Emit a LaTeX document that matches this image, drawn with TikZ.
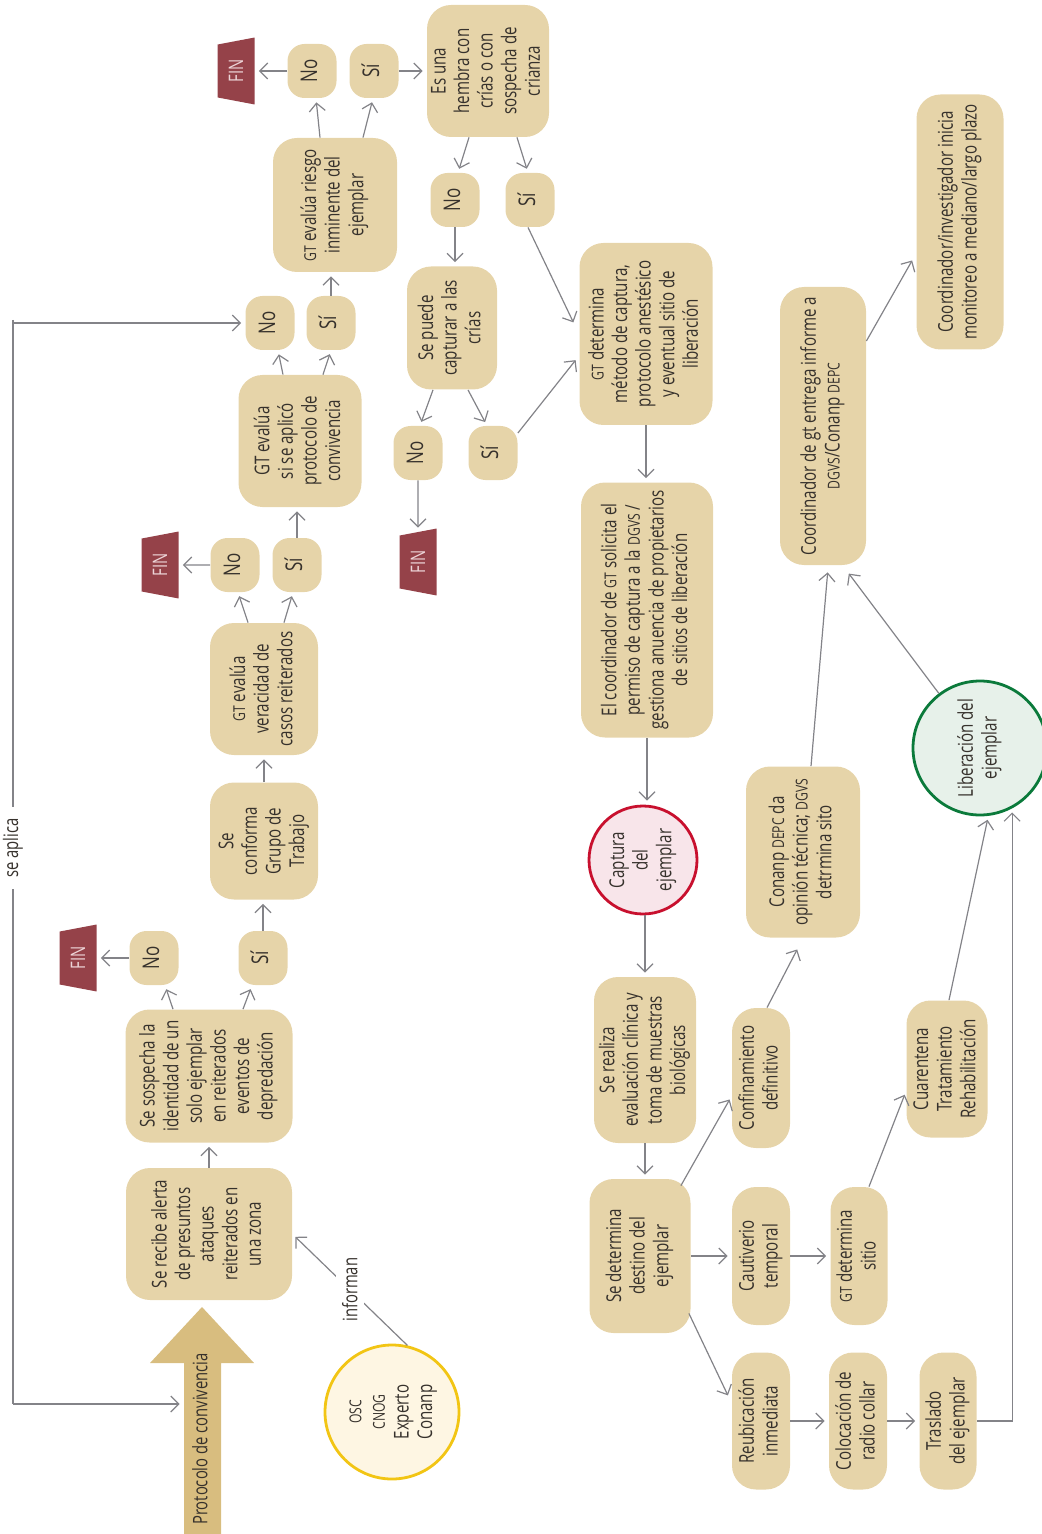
\documentclass[tikz,border=0pt]{standalone}
\usepackage{fontspec}
\setmainfont{Open Sans}[FakeStretch=0.74]
\usepackage{graphicx}
\usetikzlibrary{arrows.meta,shapes.geometric,calc}
\definecolor{boxtan}{HTML}{E6D4A9}
\definecolor{finred}{HTML}{954249}
\definecolor{fintxt}{HTML}{EDD5D8}
\definecolor{arrgray}{HTML}{838388}
\definecolor{txt}{HTML}{36312C}
\definecolor{bigarrow}{HTML}{D8BD7F}
\definecolor{capfill}{HTML}{F8E5EA}
\definecolor{capdraw}{HTML}{C8102E}
\definecolor{libfill}{HTML}{E7F1EA}
\definecolor{libdraw}{HTML}{0B7A3B}
\definecolor{oscfill}{HTML}{FEF6E3}
\definecolor{oscdraw}{HTML}{F2C514}
\newcommand\rt[1]{\rotatebox{90}{\begin{tabular}{@{}c@{}}#1\end{tabular}}}
\newcommand\sct[1]{{\fontsize{8.2}{11.8}\selectfont #1}}
\begin{document}
\begin{tikzpicture}[x=0.5pt,y=-0.5pt,
  font=\fontsize{10.2}{11.8}\selectfont, text=txt,
  box/.style={fill=boxtan, rounded corners=12pt, inner sep=0pt},
  sz/.style 2 args={minimum width=#1*0.5pt, minimum height=#2*0.5pt},
  yn/.style={fill=boxtan, rounded corners=8.5pt, inner sep=0pt, minimum width=24.5pt, minimum height=27pt, font=\fontsize{11.5}{13}\selectfont},
  fin/.style={trapezium, trapezium left angle=78, trapezium right angle=78, trapezium stretches=true, minimum width=33.5pt, minimum height=18.5pt, rotate=90, fill=finred, text=fintxt, inner sep=0pt, font=\fontsize{10}{12}\selectfont},
  circ/.style={circle, inner sep=0pt, line width=1.4pt},
  line/.style={draw=arrgray, line width=0.6pt},
  arr/.style={line, -{Straight Barb[length=4pt,width=8pt]}, shorten >=2pt},
  lbl/.style={fill=white, inner sep=0pt, font=\fontsize{10}{12}\selectfont}
]
\useasboundingbox (0,0) rectangle (1042,1534);

% ---------- left chain ----------
\node[fin] (finA) at (236,71) {FIN};
\node[yn] (noA) at (312,71) {\rt{No}};
\node[yn] (siA) at (374,71) {\rt{Sí}};
\node[box, sz={124}{134}] (riesgo) at (335,205) {\rt{\sct{GT} evalúa riesgo\\inminente del\\ejemplar}};
\node[yn] (noB) at (270,323) {\rt{No}};
\node[yn] (siB) at (331,323) {\rt{Sí}};
\node[box, sz={123}{132}] (protoEval) at (300,441) {\rt{GT evalúa\\si se aplicó\\protocolo de\\convivencia}};
\node[fin] (finC) at (160,565) {FIN};
\node[yn] (noC) at (235,565) {\rt{No}};
\node[yn] (siC) at (297,565) {\rt{Sí}};
\node[box, sz={108}{132}] (ver) at (264,689) {\rt{\sct{GT} evalúa\\veracidad de\\casos reiterados}};
\node[box, sz={108}{117}] (conforma) at (264,841) {\rt{Se\\conforma\\Grupo de\\Trabajo}};
\node[fin] (finD) at (78,958) {FIN};
\node[yn] (noD) at (154,958) {\rt{No}};
\node[yn] (siD) at (263,958) {\rt{Sí}};
\node[box, sz={167}{133}] (sosp) at (209,1076) {\rt{Se sospecha la\\identidad de un\\solo ejemplar\\en reiterados\\eventos de\\depredación}};
\node[box, sz={166}{132}] (alerta) at (209,1234) {\rt{Se recibe alerta\\de presuntos\\ataques\\reiterados en\\una zona}};

% big arrow
\fill[bigarrow] (184,1540) -- (184,1363) -- (150,1363) -- (202,1307) -- (254,1363) -- (221,1363) -- (221,1540) -- cycle;
\node[inner sep=0pt, minimum width=18.5pt, minimum height=86pt, font=\fontsize{10}{12}\selectfont] (proto) at (202.5,1439) {\rt{Protocolo de convivencia}};

\node[circ, minimum size=67pt, fill=oscfill, draw=oscdraw] (osc) at (392,1412) {\rt{\sct{OSC}\\\sct{CNOG}\\Experto\\Conanp}};

% ---------- middle ----------
\node[box, sz={122}{132}] (hembra) at (488,71) {\rt{Es una\\hembra con\\crías o con\\sospecha de\\crianza}};
\node[yn] (noE) at (455,200) {\rt{No}};
\node[yn] (siE) at (530,200) {\rt{Sí}};
\node[box, sz={90}{123}] (capt) at (452,328) {\rt{Se puede\\capturar a las\\crías}};
\node[yn] (noF) at (418,453) {\rt{No}};
\node[yn] (siF) at (493,453) {\rt{Sí}};
\node[fin] (finF) at (418,562) {FIN};
\node[box, sz={133}{182}] (metodo) at (646,334) {\rt{\sct{GT} determina\\método de captura,\\protocolo anestésico\\y eventual sitio de\\liberación}};
\node[box, sz={132}{255}] (solic) at (647,610) {\rt{El coordinador de \sct{GT} solicita el\\permiso de captura a la \sct{DGVS} /\\gestiona anuencia de propietarios\\de sitios de liberación}};
\node[circ, minimum size=54pt, fill=capfill, draw=capdraw] (captura) at (643,860) {\rt{Captura\\del\\ejemplar}};
\node[box, sz={102}{166}] (eval) at (645,1060) {\rt{Se realiza\\evaluación clínica y\\toma de muestras\\biológicas}};
\node[box, sz={101}{154}] (destino) at (640,1256) {\rt{Se determina\\destino del\\ejemplar}};

% ---------- right ----------
\node[box, sz={58}{140}] (confin) at (761,1078) {\rt{Confinamiento\\definitivo}};
\node[box, sz={58}{138}] (cautiv) at (761,1256) {\rt{Cautiverio\\temporal}};
\node[box, sz={58}{137}] (reubic) at (761,1421) {\rt{Reubicación\\inmediata}};
\node[box, sz={57}{138}] (gtsitio) at (859,1256) {\rt{\sct{GT} determina\\sitio}};
\node[box, sz={58}{137}] (collar) at (858,1421) {\rt{Colocación de\\radio collar}};
\node[box, sz={57}{137}] (traslado) at (948,1421) {\rt{Traslado\\del ejemplar}};
\node[box, sz={81}{137}] (cuar) at (947,1069) {\rt{Cuarentena\\Tratamiento\\Rehabilitación}};
\node[box, sz={114}{171}] (conanp) at (803,852) {\rt{Conanp \sct{DEPC} da\\opinión técnica; \sct{DGVS}\\detrmina sito}};
\node[circ, minimum size=67pt, fill=libfill, draw=libdraw] (lib) at (980,748) {\rt{Liberación del\\ejemplar}};
\node[box, sz={86}{278}] (informe) at (823,426) {\rt{Coordinador de gt entrega informe a\\\sct{DGVS}/Conanp \sct{DEPC}}};
\node[box, sz={87}{255}] (monit) at (960,222) {\rt{Coordinador/investigador inicia\\monitoreo a mediano/largo plazo}};

% ---------- connectors ----------
\draw[arr] (siA.east) -- (hembra.west);
\draw[arr] (noA) -- (finA);
\draw[arr] ($(riesgo.north)+(-15,0)$) -- ($(noA.south)+(4,0)$);
\draw[arr] ($(riesgo.north)+(28,0)$) -- ($(siA.south)+(-1,0)$);
\draw[arr] (siB.north) -- (siB.north |- riesgo.south);
\draw[arr] ($(protoEval.north)+(-17,0)$) -- ($(noB.south)+(8,0)$);
\draw[arr] ($(protoEval.north)+(23,0)$) -- (siB.south);
\draw[arr] (siC.north) -- (siC.north |- protoEval.south);
\draw[arr] (noC) -- (finC);
\draw[arr] ($(ver.north)+(-16,0)$) -- ($(noC.south)+(3,0)$);
\draw[arr] ($(ver.north)+(20,0)$) -- ($(siC.south)+(-4,0)$);
\draw[arr] (conforma.north) -- (ver.south);
\draw[arr] (siD.north) -- (siD.north |- conforma.south);
\draw[arr] (noD) -- (finD);
\draw[arr] ($(sosp.north)+(-36,0)$) -- ($(noD.south)+(11,0)$);
\draw[arr] ($(sosp.north)+(34,0)$) -- ($(siD.south)+(-11,0)$);
\draw[arr] (alerta.north) -- (sosp.south);
\draw[arr] (osc.77) -- node[lbl, inner xsep=3pt]{\rotatebox{90}{informan}} (alerta.east);

\coordinate (sa1) at (13,320);
\coordinate (sa2) at (13,1404);
\draw[line] (sa1) -- node[lbl, pos=0.487, inner ysep=5.5pt]{\rotatebox{90}{se aplica}} (sa2);
\draw[arr] (sa1 |- noB) -- (noB.west);
\draw[arr] (sa2) -- (sa2 -| proto.west);

\draw[arr] ($(hembra.south)+(-19,0)$) -- ($(noE.north)+(3,0)$);
\draw[arr] ($(hembra.south)+(29,0)$) -- ($(siE.north)+(-2,0)$);
\draw[arr] (noE.south) -- (noE.south |- capt.north);
\draw[arr] ($(capt.south)+(-19,0)$) -- ($(noF.north)+(2,0)$);
\draw[arr] ($(capt.south)+(16,0)$) -- ($(siF.north)+(-6,0)$);
\draw[arr] (noF.south) -- (finF);
\draw[arr] ($(siE.south)+(-2,0)$) -- ($(metodo.west)+(-4,-8)$);
\draw[arr] ($(siF.east)+(0,-20)$) -- ($(metodo.west)+(-1,23)$);
\draw[arr] (metodo.south) -- (metodo.south |- solic.north);
\draw[arr] (solic.south) -- (solic.south |- captura.north);
\draw[arr] (eval.north |- captura.south) -- (eval.north);
\draw[arr] (eval.south) -- (eval.south |- destino.north);
\draw[arr] ($(destino.north east)+(-10,7)$) -- ($(confin.west)+(0,18)$);
\draw[arr] (destino.east |- cautiv.west) -- (cautiv.west);
\draw[arr] ($(destino.south east)+(-2,-20)$) -- ($(reubic.west)+(-2,-22)$);
\draw[arr] (cautiv.east) -- (gtsitio.west);
\draw[arr] (reubic.east) -- (collar.west);
\draw[arr] (collar.east) -- (traslado.west);
\draw[arr] ($(gtsitio.north)+(10,0)$) -- ($(cuar.west)+(0,22)$);
\draw[arr] ($(cuar.north)+(2,0)$) -- (lib.-83);
\draw[arr] (traslado.east) -| (lib.-62);
\draw[arr] ($(confin.north)+(6,0)$) -- ($(conanp.south)+(-4,8)$);
\draw[arr] ($(conanp.north)+(8,0)$) -- ($(informe.south)+(5,3)$);
\draw[arr] (lib.127) -- ($(informe.south east)+(-20,5)$);
\draw[arr] ($(informe.east)+(0,-85)$) -- ($(monit.west)+(-2,35)$);
\end{tikzpicture}
\end{document}
